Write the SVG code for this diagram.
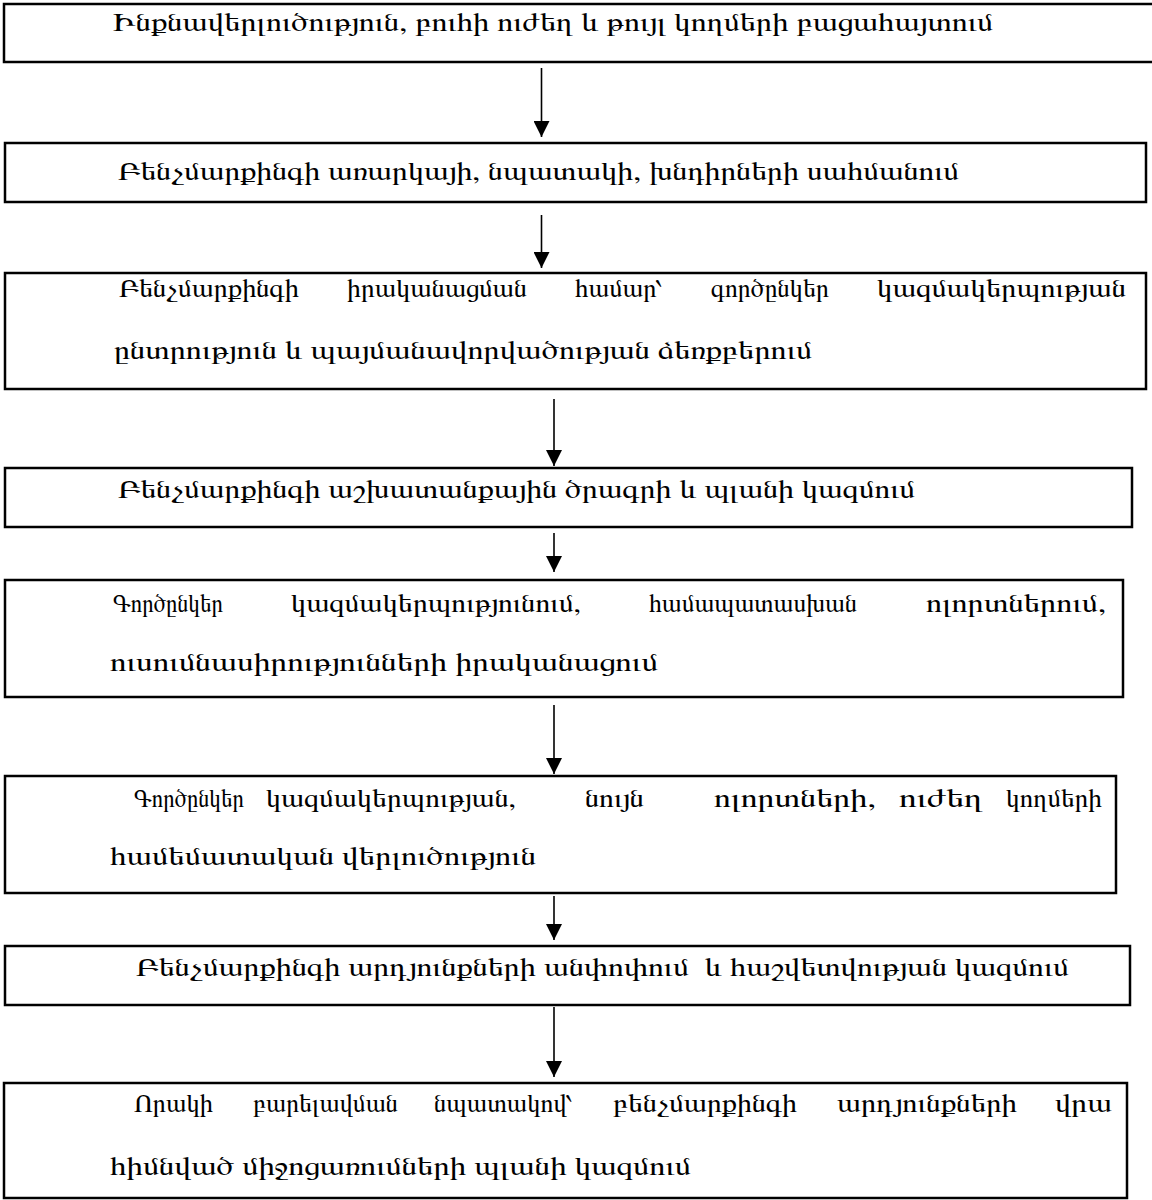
<svg xmlns="http://www.w3.org/2000/svg" width="1152" height="1200" viewBox="0 0 1152 1200">
<style>
.box{fill:#fff;stroke:#000;stroke-width:2.5}
.t{font-family:FreeSerif,"Noto Serif Armenian","DejaVu Serif",serif;font-size:26px;fill:#000}
.conn line{stroke:#000;stroke-width:1.6}
</style>
<defs>
<marker id="ah" viewBox="0 0 16 16" refX="16" refY="8" markerWidth="16" markerHeight="16" markerUnits="userSpaceOnUse" orient="auto">
<path d="M0,0 L16,8 L0,16 z" fill="#000"/>
</marker>
</defs>
<rect width="1152" height="1200" fill="#fff"/>
<g id="connectors" class="conn">
<line x1="541.5" y1="68" x2="541.5" y2="137" marker-end="url(#ah)"/>
<line x1="541.5" y1="215" x2="541.5" y2="268" marker-end="url(#ah)"/>
<line x1="554" y1="399" x2="554" y2="466" marker-end="url(#ah)"/>
<line x1="554" y1="533" x2="554" y2="572" marker-end="url(#ah)"/>
<line x1="554" y1="705" x2="554" y2="774" marker-end="url(#ah)"/>
<line x1="554" y1="896" x2="554" y2="940" marker-end="url(#ah)"/>
<line x1="554" y1="1007" x2="554" y2="1077" marker-end="url(#ah)"/>
</g>
<g id="n1">
<rect class="box" x="4" y="4" width="1160" height="58"/>
<text class="t" x="113" y="31" textLength="880" lengthAdjust="spacingAndGlyphs">Ինքնավերլուծություն, բուհի ուժեղ և թույլ կողմերի բացահայտում</text>
</g>
<g id="n2">
<rect class="box" x="5" y="143" width="1141" height="59"/>
<text class="t" x="118" y="180" textLength="841" lengthAdjust="spacingAndGlyphs">Բենչմարքինգի առարկայի, նպատակի, խնդիրների սահմանում</text>
</g>
<g id="n3">
<rect class="box" x="5" y="273" width="1141" height="116"/>
<text class="t" x="119" y="297" textLength="180" lengthAdjust="spacingAndGlyphs">Բենչմարքինգի</text>
<text class="t" x="347" y="297" textLength="180" lengthAdjust="spacingAndGlyphs">իրականացման</text>
<text class="t" x="575" y="297" textLength="88" lengthAdjust="spacingAndGlyphs">համար՝</text>
<text class="t" x="711" y="297" textLength="118" lengthAdjust="spacingAndGlyphs">գործընկեր</text>
<text class="t" x="877" y="297" textLength="249" lengthAdjust="spacingAndGlyphs">կազմակերպության</text>
<text class="t" x="114" y="359" textLength="698" lengthAdjust="spacingAndGlyphs">ընտրություն և պայմանավորվածության ձեռքբերում</text>
</g>
<g id="n4">
<rect class="box" x="5" y="468" width="1127" height="59"/>
<text class="t" x="118" y="498" textLength="797" lengthAdjust="spacingAndGlyphs">Բենչմարքինգի աշխատանքային ծրագրի և պլանի կազմում</text>
</g>
<g id="n5">
<rect class="box" x="5" y="580" width="1118" height="117"/>
<text class="t" x="113" y="612" textLength="110" lengthAdjust="spacingAndGlyphs">Գործընկեր</text>
<text class="t" x="291" y="612" textLength="290" lengthAdjust="spacingAndGlyphs">կազմակերպությունում,</text>
<text class="t" x="649" y="612" textLength="208" lengthAdjust="spacingAndGlyphs">համապատասխան</text>
<text class="t" x="926" y="612" textLength="180" lengthAdjust="spacingAndGlyphs">ոլորտներում,</text>
<text class="t" x="110" y="671" textLength="548" lengthAdjust="spacingAndGlyphs">ուսումնասիրությունների իրականացում</text>
</g>
<g id="n6">
<rect class="box" x="5" y="776" width="1111" height="117"/>
<text class="t" x="134" y="807" textLength="110" lengthAdjust="spacingAndGlyphs">Գործընկեր</text>
<text class="t" x="266" y="807" textLength="250" lengthAdjust="spacingAndGlyphs">կազմակերպության,</text>
<text class="t" x="585" y="807" textLength="59" lengthAdjust="spacingAndGlyphs">նույն</text>
<text class="t" x="714" y="807" textLength="162" lengthAdjust="spacingAndGlyphs">ոլորտների,</text>
<text class="t" x="899" y="807" textLength="84" lengthAdjust="spacingAndGlyphs">ուժեղ</text>
<text class="t" x="1006" y="807" textLength="96" lengthAdjust="spacingAndGlyphs">կողմերի</text>
<text class="t" x="110" y="865" textLength="426" lengthAdjust="spacingAndGlyphs">համեմատական վերլուծություն</text>
</g>
<g id="n7">
<rect class="box" x="5" y="946" width="1125" height="59"/>
<text class="t" x="136" y="976" textLength="933" lengthAdjust="spacingAndGlyphs" xml:space="preserve">Բենչմարքինգի արդյունքների անփոփում  և հաշվետվության կազմում</text>
</g>
<g id="n8">
<rect class="box" x="4" y="1083" width="1123" height="115"/>
<text class="t" x="134" y="1112" textLength="79" lengthAdjust="spacingAndGlyphs">Որակի</text>
<text class="t" x="253" y="1112" textLength="145" lengthAdjust="spacingAndGlyphs">բարելավման</text>
<text class="t" x="434" y="1112" textLength="139" lengthAdjust="spacingAndGlyphs">նպատակով՝</text>
<text class="t" x="613" y="1112" textLength="184" lengthAdjust="spacingAndGlyphs">բենչմարքինգի</text>
<text class="t" x="837" y="1112" textLength="180" lengthAdjust="spacingAndGlyphs">արդյունքների</text>
<text class="t" x="1055" y="1112" textLength="57" lengthAdjust="spacingAndGlyphs">վրա</text>
<text class="t" x="110" y="1175" textLength="581" lengthAdjust="spacingAndGlyphs">հիմնված միջոցառումների պլանի կազմում</text>
</g>
</svg>
